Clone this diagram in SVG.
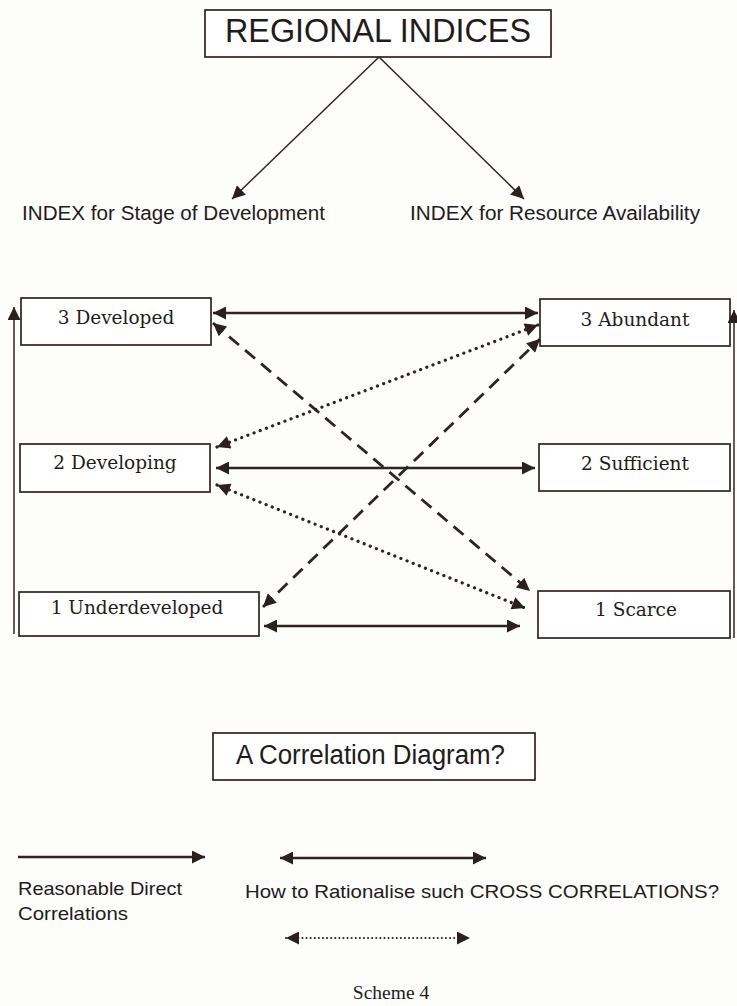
<svg xmlns="http://www.w3.org/2000/svg" width="737" height="1006" viewBox="0 0 737 1006">
<defs>
<marker id="ah" viewBox="0 0 10 10" refX="10" refY="5" markerWidth="17" markerHeight="13" markerUnits="userSpaceOnUse" orient="auto-start-reverse">
<path d="M0,0 L10,5 L0,10 z" fill="#2a201e"/>
</marker>
<style>
.box{fill:#fff;stroke:#2e2422;stroke-width:1.7}
.lbl{font-family:"DejaVu Serif",serif;font-size:18.5px;fill:#231b1a;text-anchor:middle}
.ttl{font-family:"Liberation Sans",Arial,sans-serif;fill:#231b1a}
.ln{stroke:#2e2422;fill:none}
.solid{stroke-width:2.4}
.thin{stroke-width:1.5}
.dash{stroke-width:2.8;stroke-dasharray:13 8}
.dot{stroke-width:3.2;stroke-dasharray:0.1 6.5;stroke-linecap:round}
</style>
</defs>
<rect width="737" height="1006" fill="#fdfdfc"/>

<g id="title">
<rect class="box" x="205" y="10" width="346" height="47"/>
<text class="ttl" x="378" y="42" font-size="33" text-anchor="middle" textLength="306" lengthAdjust="spacingAndGlyphs">REGIONAL INDICES</text>
</g>
<g id="idx-dev">
<text class="ttl" x="22" y="220" font-size="20" textLength="303" lengthAdjust="spacingAndGlyphs">INDEX for Stage of Development</text>
</g>
<g id="idx-res">
<text class="ttl" x="410" y="220" font-size="20" textLength="290" lengthAdjust="spacingAndGlyphs">INDEX for Resource Availability</text>
</g>

<g id="n-developed">
<rect class="box" x="21" y="298" width="190" height="47"/>
<text class="lbl" x="116" y="324">3 Developed</text>
</g>
<g id="n-developing">
<rect class="box" x="20" y="444" width="190" height="48"/>
<text class="lbl" x="115" y="469">2 Developing</text>
</g>
<g id="n-underdeveloped">
<rect class="box" x="19" y="592" width="240" height="44"/>
<text class="lbl" x="137" y="614">1 Underdeveloped</text>
</g>
<g id="n-abundant">
<rect class="box" x="540" y="299" width="190" height="47"/>
<text class="lbl" x="635" y="326">3 Abundant</text>
</g>
<g id="n-sufficient">
<rect class="box" x="539" y="444" width="191" height="47"/>
<text class="lbl" x="635" y="470">2 Sufficient</text>
</g>
<g id="n-scarce">
<rect class="box" x="538" y="591" width="192" height="47"/>
<text class="lbl" x="636" y="616">1 Scarce</text>
</g>

<g id="n-question">
<rect class="box" x="213" y="733" width="322" height="47"/>
<text class="ttl" x="236" y="764" font-size="27" textLength="269" lengthAdjust="spacingAndGlyphs">A Correlation Diagram?</text>
</g>

<g id="legend">
<text class="ttl" x="18" y="895" font-size="19" textLength="164" lengthAdjust="spacingAndGlyphs">Reasonable Direct</text>
<text class="ttl" x="18" y="920" font-size="19" textLength="110" lengthAdjust="spacingAndGlyphs">Correlations</text>
<text class="ttl" x="245" y="898" font-size="19" textLength="474" lengthAdjust="spacingAndGlyphs">How to Rationalise such CROSS CORRELATIONS?</text>
<text x="391" y="999" font-family="Liberation Serif,serif" font-size="19.5" fill="#231b1a" text-anchor="middle">Scheme 4</text>
</g>

<g id="connectors">
<line class="ln thin" x1="379" y1="57" x2="232" y2="199" marker-end="url(#ah)"/>
<line class="ln thin" x1="379" y1="57" x2="524" y2="199" marker-end="url(#ah)"/>

<line class="ln thin" x1="14" y1="634" x2="14" y2="307" marker-end="url(#ah)"/>
<line class="ln thin" x1="734" y1="638" x2="734" y2="310" marker-end="url(#ah)"/>

<line class="ln solid" x1="213" y1="313" x2="538" y2="313" marker-start="url(#ah)" marker-end="url(#ah)"/>
<line class="ln solid" x1="216" y1="468" x2="535" y2="468" marker-start="url(#ah)" marker-end="url(#ah)"/>
<line class="ln solid" x1="264" y1="626" x2="520" y2="626" marker-start="url(#ah)" marker-end="url(#ah)"/>

<line class="ln dash" x1="213" y1="323" x2="530" y2="591" marker-start="url(#ah)" marker-end="url(#ah)"/>
<line class="ln dash" x1="263" y1="607" x2="540" y2="339" marker-start="url(#ah)" marker-end="url(#ah)"/>

<line class="ln dot" x1="217" y1="447" x2="538" y2="325" marker-start="url(#ah)" marker-end="url(#ah)"/>
<line class="ln dot" x1="217" y1="485" x2="525" y2="608" marker-start="url(#ah)" marker-end="url(#ah)"/>

<line class="ln solid" x1="18" y1="857" x2="205" y2="857" marker-end="url(#ah)"/>
<line class="ln solid" x1="280" y1="858" x2="486" y2="858" marker-start="url(#ah)" marker-end="url(#ah)"/>
<line class="ln dot" style="stroke-width:2;stroke-dasharray:0.1 4" x1="286" y1="938" x2="470" y2="938" marker-start="url(#ah)" marker-end="url(#ah)"/>
</g>
</svg>
